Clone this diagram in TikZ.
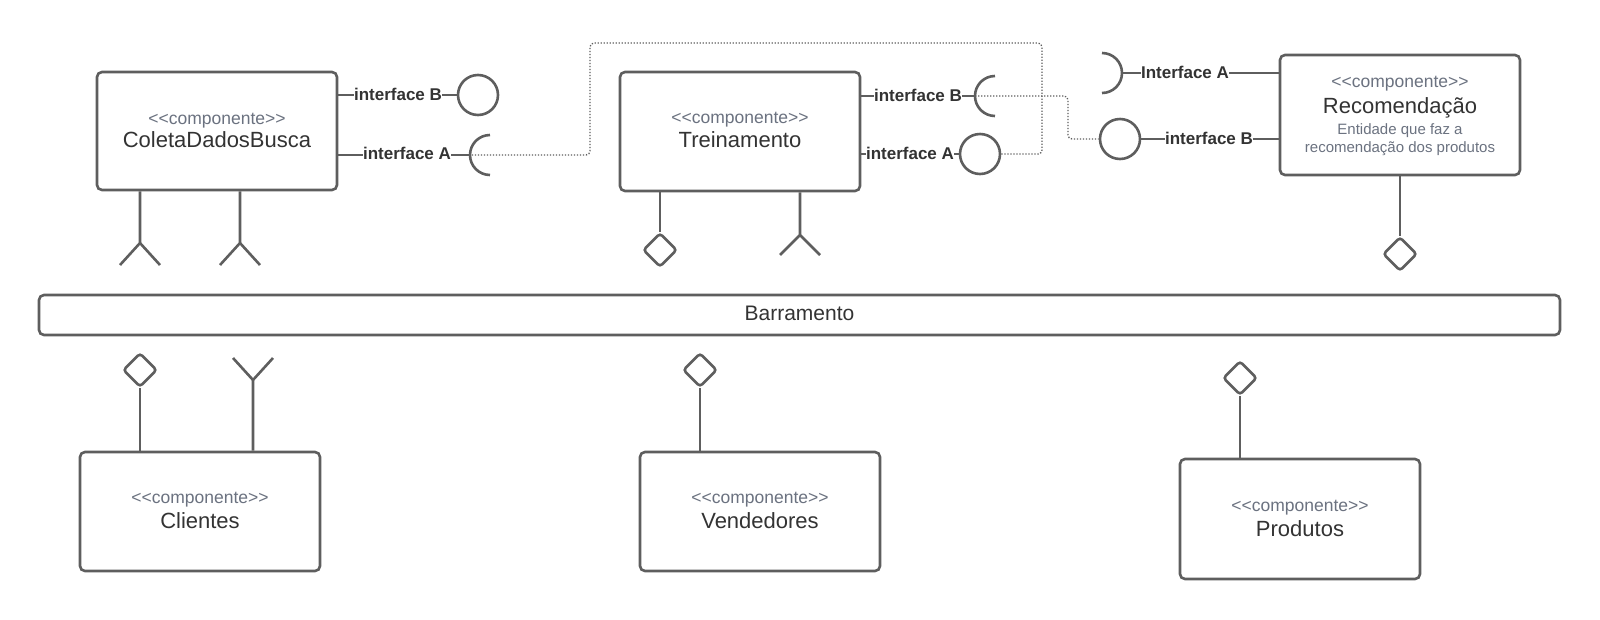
\documentclass[tikz,border=0pt]{standalone}
\usepackage{fontspec}
\setmainfont{Liberation Sans}
\usetikzlibrary{shapes.geometric}
\definecolor{ln}{HTML}{5E5E5E}
\definecolor{tx}{HTML}{333333}
\definecolor{st}{HTML}{6B7280}
\def\stereotxt{<\kern0pt<componente>\kern0pt>}
\begin{document}
\begin{tikzpicture}[x=1pt,y=-1pt,
 comp/.style={draw=ln,line width=2.6pt,rounded corners=5pt,minimum width=240pt,inner sep=0pt},
 stereo/.style={text=st,font=\fontsize{17.5}{20}\selectfont,inner sep=0pt},
 cname/.style={text=tx,font=\fontsize{22}{26}\selectfont,inner sep=0pt},
 desc/.style={text=st,font=\fontsize{15}{18}\selectfont,inner sep=0pt},
 iflabel/.style={text=tx,font=\bfseries\fontsize{17}{20}\selectfont,inner sep=0pt},
 wire/.style={draw=ln,line width=2.6pt},
 ball/.style={circle,draw=ln,line width=2.6pt,minimum size=40pt,inner sep=0pt},
 portd/.style={diamond,draw=ln,line width=2.6pt,minimum size=34pt,inner sep=0pt,rounded corners=3pt,fill=white},
 dots/.style={draw=ln,line width=1.3pt,dash pattern=on 1.3pt off 1.7pt,rounded corners=4pt},
]
\fill[white] (0,0) rectangle (1600,619);
\useasboundingbox (0,0) rectangle (1600,619);

% ---------- ColetaDadosBusca ----------
\node[comp,minimum height=118pt] (col) at (217,131) {};
\node[stereo] (col-s) at (217,121) {\stereotxt};
\node[cname] (col-n) at (217,140) {ColetaDadosBusca};
\node[iflabel] (cB) at (398,94) {interface B};
\node[ball] (cBb) at (478,95) {};
\draw[wire] (col.east |- cBb) -- (cB.west |- cBb) (cB.east |- cBb) -- (cBb.west);
\node[iflabel] (cA) at (407,153) {interface A};
\coordinate (cAs) at (490,155);
\draw[wire] ([yshift=20pt]cAs) arc[start angle=90,end angle=270,radius=20pt];
\draw[wire] (col.east |- cAs) -- (cA.west |- cAs) (cA.east |- cAs) -- ([xshift=-20pt]cAs);
\coordinate (f1) at (140,243);
\coordinate (f2) at (240,243);
\draw[wire] (col.south -| f1) -- (f1) (f1) -- ++(-20,22) (f1) -- ++(20,22);
\draw[wire] (col.south -| f2) -- (f2) (f2) -- ++(-20,22) (f2) -- ++(20,22);

% ---------- Treinamento ----------
\node[comp,minimum height=119pt] (tre) at (740,131.5) {};
\node[stereo] (tre-s) at (740,120) {\stereotxt};
\node[cname] (tre-n) at (740,140) {Treinamento};
\node[iflabel] (tB) at (918,95) {interface B};
\coordinate (tBs) at (995,96);
\draw[wire] ([yshift=20pt]tBs) arc[start angle=90,end angle=270,radius=20pt];
\draw[wire] (tre.east |- tBs) -- (tB.west |- tBs) (tB.east |- tBs) -- ([xshift=-20pt]tBs);
\node[iflabel] (tA) at (910,153) {interface A};
\node[ball] (tAb) at (980,154) {};
\draw[wire] (tre.east |- tAb) -- (tA.west |- tAb) (tA.east |- tAb) -- (tAb.west);
\node[portd] (d1) at (660,250) {};
\draw[wire] (tre.south -| d1) -- (d1.north);
\coordinate (f3) at (800,235);
\draw[wire] (tre.south -| f3) -- (f3) (f3) -- ++(-20,20) (f3) -- ++(20,20);

% ---------- Recomendacao ----------
\node[comp,minimum height=120pt] (rec) at (1400,115) {};
\node[stereo] (rec-s) at (1400,84) {\stereotxt};
\node[cname] (rec-n) at (1400,108) {Recomendação};
\node[desc] (rec-d1) at (1400,131) {Entidade que faz a};
\node[desc] (rec-d2) at (1400,149) {recomendação dos produtos};
\node[iflabel] (rA) at (1185,72) {Interface A};
\coordinate (rAs) at (1102,73);
\draw[wire] ([yshift=20pt]rAs) arc[start angle=90,end angle=-90,radius=20pt];
\draw[wire] ([xshift=20pt]rAs) -- (rA.west |- rAs) (rA.east |- rAs) -- (rAs -| rec.west);
\node[iflabel] (rB) at (1209,138) {interface B};
\node[ball] (rBb) at (1120,139) {};
\draw[wire] (rBb.east) -- (rB.west |- rBb) (rB.east |- rBb) -- (rBb -| rec.west);
\node[portd] (d2) at (1400,254) {};
\draw[wire] (rec.south -| d2) -- (d2.north);

% ---------- dotted connections ----------
\coordinate (b1) at (1042,43);
\coordinate (b2) at (590,43);
\draw[dots] (tAb.east) -| (b1) -- (b2) |- ([xshift=-20pt]cAs);
\coordinate (b3) at (1068,118);
\draw[dots] ([xshift=-20pt]tBs) -| (b3) |- (rBb.west);

% ---------- Barramento ----------
\draw[draw=ln,line width=2.6pt,rounded corners=5pt] (39,295) rectangle (1560,335);
\node[text=tx,font=\fontsize{21}{24}\selectfont,inner sep=0pt] (bus) at (799.5,313) {Barramento};

% ---------- Clientes ----------
\node[comp,minimum height=119pt] (cli) at (200,511.5) {};
\node[stereo] (cli-s) at (200,500) {\stereotxt};
\node[cname] (cli-n) at (200,521) {Clientes};
\node[portd] (d3) at (140,370) {};
\draw[wire] (d3.south) -- (d3.south |- cli.north);
\coordinate (f4) at (253,380);
\draw[wire] (cli.north -| f4) -- (f4) (f4) -- ++(-20,-22) (f4) -- ++(20,-22);

% ---------- Vendedores ----------
\node[comp,minimum height=119pt] (ven) at (760,511.5) {};
\node[stereo] (ven-s) at (760,500) {\stereotxt};
\node[cname] (ven-n) at (760,521) {Vendedores};
\node[portd] (d4) at (700,370) {};
\draw[wire] (d4.south) -- (d4.south |- ven.north);

% ---------- Produtos ----------
\node[comp,minimum height=120pt] (pro) at (1300,519) {};
\node[stereo] (pro-s) at (1300,508) {\stereotxt};
\node[cname] (pro-n) at (1300,529) {Produtos};
\node[portd] (d5) at (1240,378) {};
\draw[wire] (d5.south) -- (d5.south |- pro.north);
\end{tikzpicture}
\end{document}
